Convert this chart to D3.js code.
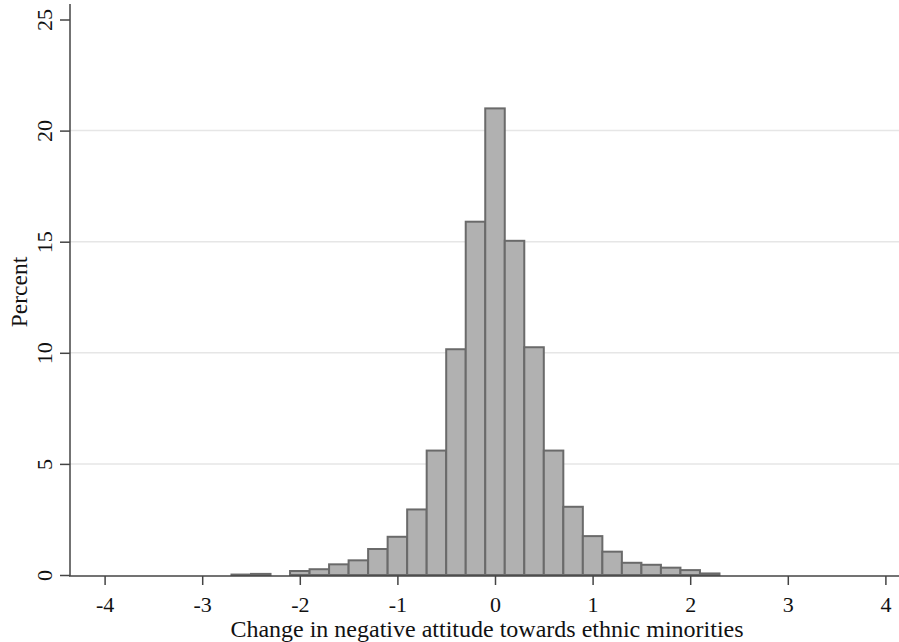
<!DOCTYPE html>
<html>
<head>
<meta charset="utf-8">
<script src="https://cdn.jsdelivr.net/npm/d3@7"></script>
<style>
  body { margin: 0; background: #fff; }
  text { font-family: "Liberation Serif", "DejaVu Serif", serif; fill: #111; }
</style>
</head>
<body>
<div id="chart"></div>
<script>
// bin centres (width 0.2) and percent in each bin
var binCenters = [-2.6, -2.4, -2.2, -2.0, -1.8, -1.6, -1.4, -1.2, -1.0, -0.8, -0.6, -0.4, -0.2,
                  0, 0.2, 0.4, 0.6, 0.8, 1.0, 1.2, 1.4, 1.6, 1.8, 2.0, 2.2];
var binPercent = [0.02, 0.05, 0, 0.18, 0.26, 0.48, 0.66, 1.17, 1.72, 2.95, 5.6, 10.16, 15.9,
                  21.0, 15.04, 10.25, 5.6, 3.07, 1.75, 1.05, 0.55, 0.46, 0.33, 0.22, 0.07];
var binWidth = 0.2;
var xTicks = [-4, -3, -2, -1, 0, 1, 2, 3, 4];
var yTicks = [0, 5, 10, 15, 20, 25];
var xTitle = "Change in negative attitude towards ethnic minorities";
var yTitle = "Percent";

var width = 899, height = 642;
var svg = d3.select("#chart").append("svg")
    .attr("width", width)
    .attr("height", height);

var xScale = d3.scaleLinear().domain([-4, 4]).range([104.6, 885.4]);
var yScale = d3.scaleLinear().domain([0, 25]).range([575, 19.5]);

var data = [];
for (i = 0; i < binCenters.length; i++) {
    data.push({x: binCenters[i], pct: binPercent[i]});
}

// grid lines
svg.append("g")
    .selectAll("line")
    .data([5, 10, 15, 20])
    .enter().append("line")
    .attr("x1", 70).attr("x2", width)
    .attr("y1", function (d) { return yScale(d); })
    .attr("y2", function (d) { return yScale(d); })
    .style("stroke", "#e6e6e6")
    .style("stroke-width", 1.5);

// bars
svg.append("g")
    .selectAll("rect")
    .data(data.filter(function (d) { return d.pct > 0; }))
    .enter().append("rect")
    .attr("x", function (d) { return xScale(d.x - binWidth / 2); })
    .attr("y", function (d) { return yScale(d.pct); })
    .attr("width", function (d) { return xScale(d.x + binWidth / 2) - xScale(d.x - binWidth / 2); })
    .attr("height", function (d) { return yScale(0) - yScale(d.pct); })
    .style("fill", "#b1b1b1")
    .style("stroke", "#6a6a6a")
    .style("stroke-width", 2);

// axes
var xAxis = d3.axisBottom(xScale).tickValues(xTicks).tickSize(9).tickSizeOuter(0)
    .tickFormat(function (d) { return d; });
var gx = svg.append("g")
    .attr("transform", "translate(0," + 576 + ")")
    .call(xAxis);
gx.select(".domain").remove();
gx.selectAll("line").style("stroke", "#444").style("stroke-width", 1.5);
gx.selectAll("text")
    .attr("y", 20)
    .style("font-size", "22px")
    .style("font-family", "Liberation Serif");

var yAxis = d3.axisLeft(yScale).tickValues(yTicks).tickSize(10).tickSizeOuter(0);
var gy = svg.append("g")
    .attr("transform", "translate(" + 70 + ",0)")
    .call(yAxis);
gy.select(".domain").remove();
gy.selectAll("line").style("stroke", "#444").style("stroke-width", 1.5);
gy.selectAll("text")
    .attr("x", 0).attr("y", 0).attr("dy", 0)
    .attr("text-anchor", "middle")
    .attr("transform", "translate(-18,0) rotate(-90)")
    .style("font-size", "22px")
    .style("font-family", "Liberation Serif");

// axis lines
svg.append("line")
    .attr("x1", 70).attr("x2", 70).attr("y1", 4).attr("y2", 576)
    .style("stroke", "#444").style("stroke-width", 1.5);
svg.append("line")
    .attr("x1", 69).attr("x2", width).attr("y1", 576).attr("y2", 576)
    .style("stroke", "#444").style("stroke-width", 1.5);

// titles
svg.append("text")
    .attr("x", xScale(0) - 8)
    .attr("y", 637)
    .attr("text-anchor", "middle")
    .style("font-size", "24px")
    .text(xTitle);
svg.append("text")
    .attr("transform", "translate(27," + 292 + ") rotate(-90)")
    .attr("text-anchor", "middle")
    .style("font-size", "23.5px")
    .text(yTitle);
</script>
</body>
</html>
